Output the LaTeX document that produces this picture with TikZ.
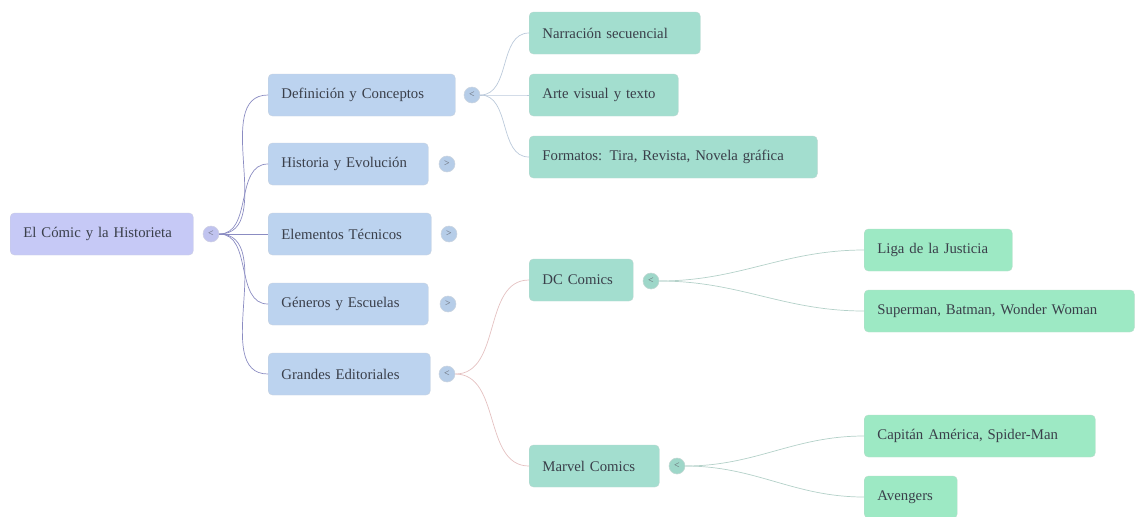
\documentclass[tikz,border=0pt]{standalone}
\usepackage{fontspec}
\setmainfont{Liberation Serif}
\definecolor{rootbg}{HTML}{C6C9F6}
\definecolor{lvla}{HTML}{BCD3EF}
\definecolor{lvlb}{HTML}{A3DECF}
\definecolor{lvlc}{HTML}{9DE9C4}
\definecolor{txt}{HTML}{3A3F4A}
\tikzset{box/.style = {draw=#1!85!black!60, fill=#1, rounded corners=3pt, line width=0.3pt,
                       anchor=west, minimum height=1.05cm, inner xsep=0.33cm, align=left,
                       text=txt, font=\fontsize{10.5}{12}\selectfont},
         tog/.style = {circle, draw=#1!80!black!50, fill=#1!97!black, minimum size=0.4cm,
                       inner sep=0pt, text=txt!80, font=\fontsize{7}{7}\selectfont},
         lnk/.style = {draw=#1, line width=0.5pt}}

\begin{document}
\begin{tikzpicture}[x=0.025cm, y=-0.025cm]
\useasboundingbox (0,0) rectangle (1136,516);
% root
\node [box=rootbg, text width=3.915cm] (root) at (10,234) {El Cómic y la Historieta};
\node [tog=rootbg] (root-t) at (211,234) {<};
% first level
\node [box=lvla, text width=4.015cm] (def) at (268,95) {Definición y Conceptos};
\node [box=lvla, text width=3.34cm] (hist) at (268,164) {Historia y Evolución};
\node [box=lvla, text width=3.415cm] (elem) at (268,234) {Elementos Técnicos};
\node [box=lvla, text width=3.34cm] (gen) at (268,304) {Géneros y Escuelas};
\node [box=lvla, text width=3.39cm] (edit) at (268,374) {Grandes Editoriales};
\node [tog=lvla] (def-t) at (472,95) {<};
\node [tog=lvla] (hist-t) at (447,164) {>};
\node [tog=lvla] (elem-t) at (449,234) {>};
\node [tog=lvla] (gen-t) at (448,304) {>};
\node [tog=lvla] (edit-t) at (447,374) {<};
% second level
\node [box=lvlb, text width=3.615cm] (narr) at (529,33) {Narración secuencial};
\node [box=lvlb, text width=3.065cm] (arte) at (529,95) {Arte visual y texto};
\node [box=lvlb, text width=6.54cm] (form) at (529,157) {Formatos: Tira, Revista, Novela gráfica};
\node [box=lvlb, text width=1.94cm] (dc) at (529,280) {DC Comics};
\node [box=lvlb, text width=2.59cm] (marvel) at (529,466) {Marvel Comics};
\node [tog=lvlb] (dc-t) at (651,281) {<};
\node [tog=lvlb] (marvel-t) at (677,466) {<};
% third level
\node [box=lvlc, text width=3.04cm] (liga) at (864,250) {Liga de la Justicia};
\node [box=lvlc, text width=6.09cm] (super) at (864,311) {Superman, Batman, Wonder Woman};
\node [box=lvlc, text width=5.115cm] (capi) at (864,436) {Capitán América, Spider-Man};
\node [box=lvlc, text width=1.665cm] (aveng) at (864,497) {Avengers};
% links
\foreach \n in {def,hist,elem,gen,edit}
  \draw [lnk=rootbg!75!blue!55!gray] (root-t.east) to [out=0, in=180] (\n.west);
\foreach \n in {narr,arte,form}
  \draw [lnk=lvla!85!black!70] (def-t.east) to [out=0, in=180] (\n.west);
\foreach \n in {dc,marvel}
  \draw [lnk=gray!60!red!35] (edit-t.east) to [out=0, in=180] (\n.west);
\foreach \n in {liga,super}
  \draw [lnk=lvlb!80!black!60] (dc-t.east) to [out=0, in=180] (\n.west);
\foreach \n in {capi,aveng}
  \draw [lnk=lvlb!80!black!60] (marvel-t.east) to [out=0, in=180] (\n.west);
\end{tikzpicture}
\end{document}
